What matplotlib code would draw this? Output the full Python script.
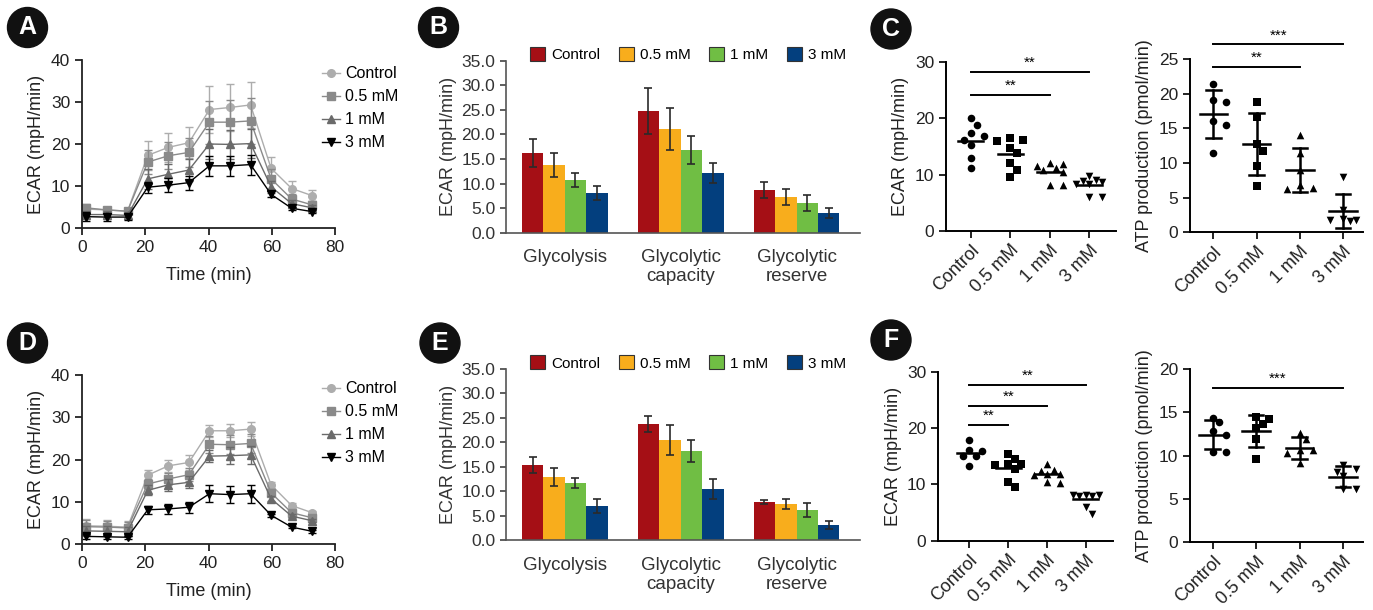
import numpy as np
import matplotlib
matplotlib.use("Agg")
import matplotlib.pyplot as plt
from matplotlib.patches import Ellipse
from matplotlib.lines import Line2D

plt.rcParams['font.family'] = ['Liberation Sans', 'DejaVu Sans']

# ---------------- data ----------------
groups = ["Control", "0.5 mM", "1 mM", "3 mM"]
time_min = [1.3, 7.9, 14.4, 20.8, 27.3, 33.8, 40.3, 46.8, 53.3, 59.8, 66.3, 72.8]

# Panel A (time course)
a_ctrl = [4.5, 4.3, 4.0, 17.3, 19.2, 20.3, 28.2, 28.7, 29.3, 14.2, 9.4, 7.7]
a_ctrl_err = [0.8, 0.8, 0.7, 3.5, 3.4, 3.7, 5.5, 5.5, 5.4, 2.6, 1.7, 1.3]
a_05 = [4.8, 4.3, 4.0, 15.7, 17.2, 18.0, 25.2, 25.2, 25.5, 11.7, 6.9, 5.5]
a_05_err = [0.8, 0.8, 0.7, 2.8, 3.2, 3.5, 5.1, 5.3, 5.4, 2.3, 1.3, 1.0]
a_1 = [3.2, 3.2, 3.0, 11.7, 12.8, 13.8, 20.0, 19.9, 20.1, 9.8, 5.8, 4.8]
a_1_err = [0.9, 0.9, 0.8, 2.3, 2.5, 2.6, 3.5, 3.5, 3.5, 1.5, 0.8, 0.6]
a_3 = [2.7, 2.6, 2.6, 9.7, 10.2, 10.8, 14.8, 14.8, 15.1, 8.0, 4.7, 3.9]
a_3_err = [1.0, 1.0, 0.8, 1.3, 1.7, 1.7, 2.3, 2.4, 2.4, 0.7, 0.4, 0.3]

# Panel D (time course)
d_ctrl = [4.3, 4.2, 4.0, 16.3, 18.5, 19.3, 26.8, 26.8, 27.2, 14.0, 9.1, 7.4]
d_ctrl_err = [1.5, 1.5, 1.4, 1.2, 1.5, 1.7, 1.4, 1.5, 1.7, 0.7, 0.5, 0.4]
d_05 = [4.1, 4.0, 3.8, 14.2, 15.4, 16.4, 23.6, 23.5, 23.8, 12.1, 7.4, 6.2]
d_05_err = [1.5, 1.5, 1.4, 1.1, 1.5, 1.5, 2.0, 2.2, 2.3, 0.8, 0.6, 0.5]
d_1 = [3.1, 3.0, 2.9, 12.7, 14.0, 14.6, 20.8, 20.9, 21.1, 10.7, 6.6, 5.5]
d_1_err = [1.2, 1.2, 1.1, 1.2, 1.4, 1.4, 1.5, 2.0, 2.1, 0.6, 0.4, 0.4]
d_3 = [1.8, 1.7, 1.6, 8.1, 8.3, 8.7, 11.9, 11.7, 11.9, 6.8, 4.0, 3.0]
d_3_err = [0.5, 0.5, 0.4, 1.0, 1.2, 1.3, 2.0, 2.0, 2.1, 0.3, 0.3, 0.3]

# Panels B / E (bars)
bar_categories = ["Glycolysis", "Glycolytic\ncapacity", "Glycolytic\nreserve"]
b_ctrl = [16.15, 24.76, 8.7];  b_ctrl_err = [2.85, 4.6, 1.55]
b_05 = [13.8, 21.1, 7.26];     b_05_err = [2.5, 4.3, 1.7]
b_1 = [10.7, 16.8, 6.04];      b_1_err = [1.4, 2.85, 1.7]
b_3 = [8.07, 12.1, 4.0];       b_3_err = [1.5, 2.0, 0.95]

e_ctrl = [15.4, 23.76, 7.83];  e_ctrl_err = [1.6, 1.6, 0.4]
e_05 = [12.9, 20.5, 7.42];     e_05_err = [1.8, 3.1, 1.1]
e_1 = [11.7, 18.2, 6.2];       e_1_err = [0.95, 2.3, 1.4]
e_3 = [7.0, 10.5, 3.13];       e_3_err = [1.5, 2.0, 0.75]

# Panel C (dot plots)
c_ecar_ctrl = [20.0, 18.8, 17.4, 16.8, 16.2, 15.3, 12.9, 11.1]
c_ecar_05 = [16.5, 16.2, 15.9, 14.7, 13.8, 12.0, 10.8, 9.5]
c_ecar_1 = [12.0, 11.8, 11.5, 11.2, 10.8, 10.5, 8.2, 8.2]
c_ecar_3 = [9.7, 9.0, 8.8, 8.6, 8.4, 8.3, 6.0, 6.0]
c_atp_ctrl = [21.4, 19.1, 18.8, 16.0, 15.5, 11.5]
c_atp_05 = [18.8, 16.7, 12.7, 11.8, 9.6, 6.7]
c_atp_1 = [14.0, 11.4, 9.0, 6.8, 6.3, 6.4]
c_atp_3 = [8.0, 3.2, 1.9, 1.8, 1.8, 1.7]

# Panel F (dot plots)
f_ecar_ctrl = [17.9, 16.1, 15.9, 15.1, 15.1, 13.3]
f_ecar_05 = [15.4, 14.5, 13.6, 13.6, 13.4, 12.8, 10.4, 9.6]
f_ecar_1 = [13.6, 12.6, 12.3, 11.9, 11.7, 11.8, 10.4, 10.3]
f_ecar_3 = [8.2, 8.1, 8.0, 8.2, 8.0, 6.0, 4.7]
f_atp_ctrl = [14.4, 13.9, 12.8, 12.4, 10.45, 10.45]
f_atp_05 = [14.5, 14.3, 13.7, 13.2, 11.9, 9.6]
f_atp_1 = [12.6, 11.9, 10.7, 10.7, 10.3, 9.1]
f_atp_3 = [8.9, 8.5, 8.1, 7.6, 6.1, 6.1]

# significance annotations: (group i, group j, height, label)
c_ecar_sig = [(0, 2, 24.2, "**"), (0, 3, 28.3, "**")]
c_atp_sig = [(0, 2, 23.8, "**"), (0, 3, 27.1, "***")]
f_ecar_sig = [(0, 1, 20.5, "**"), (0, 2, 24.0, "**"), (0, 3, 27.6, "**")]
f_atp_sig = [(0, 3, 17.8, "***")]

# ---------------- layout ----------------
W, H = 1373, 610
fig = plt.figure(figsize=(W / 100, H / 100), dpi=100)


def rect(l, t, r, b):
    return [l / W, 1 - b / H, (r - l) / W, (b - t) / H]


TICK = 12.5
line_styles = [('o', '#adadad'), ('s', '#8a8a8a'), ('^', '#6a6a6a'), ('v', '#000000')]
bar_colors = ['#A50F15', '#F8AD1C', '#70BE44', '#033F7E']


def timecourse(ax, series, errs):
    handles = []
    for g, vals, e, (m, c) in zip(groups, series, errs, line_styles):
        ax.errorbar(time_min, vals, yerr=e, fmt='none', ecolor=c,
                    elinewidth=1, capsize=3, capthick=1)
        ax.plot(time_min, vals, color=c, marker=m, ms=5.5, lw=1)
        handles.append(Line2D([], [], color=c, marker=m, ms=5.5, lw=1, label=g))
    ax.set_xlim(0, 80)
    ax.set_ylim(0, 40)
    ax.set_xticks([0, 20, 40, 60, 80])
    ax.set_yticks([0, 10, 20, 30, 40])
    for s in ['top', 'right']:
        ax.spines[s].set_visible(False)
    for s in ['left', 'bottom']:
        ax.spines[s].set_linewidth(1.3)
        ax.spines[s].set_color('#222222')
    ax.tick_params(direction='out', length=5, width=1.3, labelsize=TICK,
                   colors='#222222')
    ax.set_xlabel('Time (min)', fontsize=13, color='#222222', labelpad=9)
    ax.set_ylabel('ECAR (mpH/min)', fontsize=13, color='#222222', labelpad=4)
    ax.legend(handles=handles, loc='upper left', bbox_to_anchor=(0.925, 1.0),
              frameon=False, fontsize=11.5, handlelength=1.1,
              handletextpad=0.3, labelspacing=0.5, borderaxespad=0)


def barpanel(ax, vals, errs):
    x = np.arange(len(bar_categories))
    w = 0.185
    handles = []
    for i, (v, e, c, g) in enumerate(zip(vals, errs, bar_colors, groups)):
        ax.bar(x + (i - 1.5) * w, v, w, color=c,
               yerr=e, error_kw=dict(ecolor='#2a2a2a', elinewidth=1.2,
                                     capsize=3, capthick=1.2))
        handles.append(plt.Rectangle((0, 0), 1, 1, facecolor=c,
                                     edgecolor='#333333', lw=0.8, label=g))
    ax.set_xlim(-0.509, 2.547)
    ax.set_ylim(0, 35)
    ax.set_yticks(np.arange(0, 36, 5))
    ax.set_yticklabels([f"{t:.1f}" for t in np.arange(0, 36, 5)])
    ax.set_xticks(x)
    ax.set_xticklabels(bar_categories, fontsize=13.5, linespacing=1.15)
    for s in ['top', 'right']:
        ax.spines[s].set_visible(False)
    for s in ['left', 'bottom']:
        ax.spines[s].set_color('#555555')
        ax.spines[s].set_linewidth(1.2)
    ax.tick_params(axis='y', direction='out', length=4, width=1.1,
                   labelsize=TICK, colors='#333333')
    ax.tick_params(axis='x', length=0, pad=12, colors='#333333')
    ax.set_ylabel('ECAR (mpH/min)', fontsize=13, color='#333333', labelpad=3)
    ax.legend(handles=handles, loc='center', bbox_to_anchor=(0.515, 1.035),
              ncol=4, frameon=False, fontsize=11, handlelength=1.0,
              handleheight=1.0, handletextpad=0.4, columnspacing=1.2,
              borderaxespad=0)


def swarm_x(ax, xc, vals, step=6.5, mind=7.5, kmax=2):
    placed = []
    out = [None] * len(vals)
    order = np.argsort(vals)[::-1]
    cands = [0]
    for k in range(1, kmax + 1):
        cands += [k, -k]
    for idx in order:
        x0, y0 = ax.transData.transform((xc, vals[idx]))
        best, bestd = None, -1
        for k in cands:
            xd = x0 + k * step
            d = min([np.hypot(xd - px, y0 - py) for px, py in placed] + [1e9])
            if d >= mind:
                best = xd
                break
            if d > bestd:
                best, bestd = xd, d
        placed.append((best, y0))
        out[idx] = ax.transData.inverted().transform((best, y0))[0]
    return out


def dotplot(ax, data, xlim, ylim, yticks, ylabel, sd, sigs):
    ax.set_xlim(*xlim)
    ax.set_ylim(*ylim)
    markers = ['o', 's', '^', 'v']
    for i, (vals, m) in enumerate(zip(data, markers)):
        xs = swarm_x(ax, i, vals)
        ax.scatter(xs, vals, marker=m, s=30, color='black', zorder=3,
                   linewidths=0)
        mean = np.mean(vals)
        ax.plot([i - 0.32, i + 0.32], [mean, mean], color='black', lw=1.8,
                zorder=4)
        if sd:
            s = np.std(vals, ddof=1)
            ax.plot([i, i], [mean - s, mean + s], color='black', lw=1.8, zorder=4)
            for yy in (mean - s, mean + s):
                ax.plot([i - 0.17, i + 0.17], [yy, yy], color='black', lw=1.8,
                        zorder=4)
    for gi, gj, h, lab in sigs:
        ax.plot([gi, gj], [h, h], color='black', lw=1.4, clip_on=False)
        ax.annotate(lab, ((gi + gj) / 2, h), xytext=(0, 1.5),
                    textcoords='offset points', ha='center', va='bottom',
                    fontsize=11, annotation_clip=False)
    ax.set_yticks(yticks)
    ax.set_xticks(range(4))
    ax.set_xticklabels(groups, rotation=45, ha='right', rotation_mode='anchor',
                       fontsize=13)
    for s in ['top', 'right']:
        ax.spines[s].set_visible(False)
    for s in ['left', 'bottom']:
        ax.spines[s].set_linewidth(1.4)
    ax.tick_params(direction='out', length=5, width=1.4, labelsize=12.5,
                   colors='#222222')
    ax.tick_params(axis='x', pad=3, labelsize=13)
    ax.set_ylabel(ylabel, fontsize=13, color='#222222', labelpad=4)


# Panel A / D
axA = fig.add_axes(rect(82, 60, 335, 228))
timecourse(axA, [a_ctrl, a_05, a_1, a_3], [a_ctrl_err, a_05_err, a_1_err, a_3_err])
axD = fig.add_axes(rect(82, 375, 335, 544))
timecourse(axD, [d_ctrl, d_05, d_1, d_3], [d_ctrl_err, d_05_err, d_1_err, d_3_err])

# Panel B / E
axB = fig.add_axes(rect(505.7, 60.7, 860, 232.7))
barpanel(axB, [b_ctrl, b_05, b_1, b_3], [b_ctrl_err, b_05_err, b_1_err, b_3_err])
axE = fig.add_axes(rect(505.7, 369, 860, 540.3))
barpanel(axE, [e_ctrl, e_05, e_1, e_3], [e_ctrl_err, e_05_err, e_1_err, e_3_err])

# Panel C
axC1 = fig.add_axes(rect(946, 62.3, 1116, 230.7))
dotplot(axC1, [c_ecar_ctrl, c_ecar_05, c_ecar_1, c_ecar_3], (-0.625, 3.68),
        (0, 30), [0, 10, 20, 30], 'ECAR (mpH/min)', False, c_ecar_sig)
axC2 = fig.add_axes(rect(1190, 59, 1363, 232.3))
dotplot(axC2, [c_atp_ctrl, c_atp_05, c_atp_1, c_atp_3], (-0.54, 3.46),
        (0, 25), [0, 5, 10, 15, 20, 25], 'ATP production (pmol/min)', True, c_atp_sig)

# Panel F
axF1 = fig.add_axes(rect(938.3, 371.7, 1112.7, 540.7))
dotplot(axF1, [f_ecar_ctrl, f_ecar_05, f_ecar_1, f_ecar_3], (-0.8, 3.69),
        (0, 30), [0, 10, 20, 30], 'ECAR (mpH/min)', False, f_ecar_sig)
axF2 = fig.add_axes(rect(1190, 369.3, 1363, 542))
dotplot(axF2, [f_atp_ctrl, f_atp_05, f_atp_1, f_atp_3], (-0.52, 3.46),
        (0, 20), [0, 5, 10, 15, 20], 'ATP production (pmol/min)', True, f_atp_sig)

# Panel letters
for letter, cx, cy in [('A', 27.5, 27.5), ('B', 438.5, 27.5), ('C', 891, 29),
                       ('D', 27.5, 343), ('E', 440, 343), ('F', 891, 340)]:
    fig.add_artist(Ellipse((cx / W, 1 - cy / H), 40 / W, 40 / H,
                           transform=fig.transFigure, color='#111111'))
    fig.text(cx / W, 1 - cy / H, letter, ha='center', va='center',
             color='white', fontsize=18, fontweight='bold')

fig.savefig('out.png', dpi=100)
